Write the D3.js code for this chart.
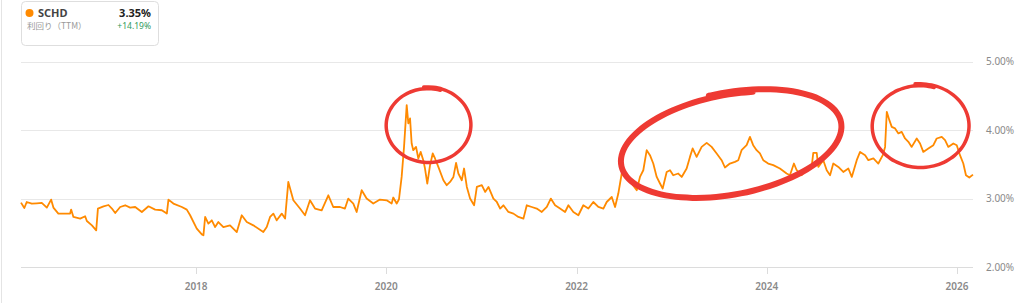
<!DOCTYPE html>
<html>
<head>
<meta charset="utf-8">
<script src="https://cdn.jsdelivr.net/npm/d3@7"></script>
<style>
    body { margin: 0; background: #fff; font-family: "Noto Sans", "Noto Sans CJK JP", sans-serif; }
    svg { display: block; }
</style>
</head>
<body>
<script>
//yield chart data (decimal year, TTM yield %)
var years = [
    2016.160, 2016.195, 2016.220, 2016.273, 2016.325, 2016.378, 2016.431, 2016.476, 2016.500, 2016.552,
    2016.623, 2016.675, 2016.686, 2016.710, 2016.781, 2016.833, 2016.851, 2016.904, 2016.949, 2016.967,
    2017.026, 2017.078, 2017.114, 2017.149, 2017.201, 2017.254, 2017.306, 2017.359, 2017.429, 2017.499,
    2017.569, 2017.639, 2017.692, 2017.709, 2017.761, 2017.850, 2017.902, 2017.937, 2018.007, 2018.060,
    2018.077, 2018.095, 2018.129, 2018.165, 2018.200, 2018.234, 2018.287, 2018.357, 2018.428, 2018.480,
    2018.533, 2018.602, 2018.707, 2018.743, 2018.778, 2018.813, 2018.848, 2018.901, 2018.936, 2018.970,
    2019.023, 2019.093, 2019.146, 2019.198, 2019.251, 2019.321, 2019.391, 2019.443, 2019.514, 2019.566,
    2019.601, 2019.654, 2019.689, 2019.742, 2019.794, 2019.864, 2019.934, 2020.005, 2020.057, 2020.074,
    2020.110, 2020.134, 2020.162, 2020.187, 2020.215, 2020.232, 2020.250, 2020.267, 2020.284, 2020.313,
    2020.337, 2020.362, 2020.389, 2020.407, 2020.431, 2020.460, 2020.488, 2020.512, 2020.547, 2020.600,
    2020.635, 2020.670, 2020.705, 2020.733, 2020.757, 2020.793, 2020.817, 2020.846, 2020.880, 2020.922,
    2020.951, 2021.003, 2021.038, 2021.073, 2021.125, 2021.161, 2021.196, 2021.230, 2021.283, 2021.336,
    2021.388, 2021.441, 2021.476, 2021.529, 2021.581, 2021.634, 2021.687, 2021.729, 2021.774, 2021.826,
    2021.879, 2021.914, 2021.966, 2022.019, 2022.071, 2022.124, 2022.176, 2022.229, 2022.282, 2022.317,
    2022.370, 2022.405, 2022.439, 2022.475, 2022.528, 2022.580, 2022.633, 2022.667, 2022.702, 2022.738,
    2022.772, 2022.807, 2022.843, 2022.878, 2022.906, 2022.948, 2022.983, 2023.017, 2023.070, 2023.106,
    2023.158, 2023.193, 2023.221, 2023.263, 2023.316, 2023.369, 2023.421, 2023.474, 2023.526, 2023.561,
    2023.613, 2023.666, 2023.701, 2023.736, 2023.789, 2023.824, 2023.858, 2023.894, 2023.929, 2023.964,
    2024.016, 2024.069, 2024.139, 2024.209, 2024.244, 2024.286, 2024.315, 2024.367, 2024.420, 2024.472,
    2024.489, 2024.525, 2024.542, 2024.594, 2024.630, 2024.665, 2024.699, 2024.752, 2024.804, 2024.857,
    2024.893, 2024.945, 2024.980, 2025.033, 2025.067, 2025.120, 2025.172, 2025.219, 2025.243, 2025.261,
    2025.288, 2025.313, 2025.348, 2025.383, 2025.418, 2025.453, 2025.488, 2025.523, 2025.576, 2025.611,
    2025.645, 2025.698, 2025.751, 2025.786, 2025.839, 2025.874, 2025.908, 2025.961, 2025.997, 2026.031,
    2026.066, 2026.094, 2026.129, 2026.168
];
var yields = [
    2.941, 2.862, 2.950, 2.927, 2.931, 2.936, 2.868, 2.985, 2.868, 2.780,
    2.780, 2.780, 2.839, 2.731, 2.707, 2.741, 2.672, 2.609, 2.536, 2.854,
    2.887, 2.906, 2.854, 2.789, 2.877, 2.902, 2.868, 2.877, 2.804, 2.887,
    2.839, 2.829, 2.780, 2.985, 2.927, 2.877, 2.839, 2.756, 2.561, 2.477,
    2.463, 2.731, 2.634, 2.682, 2.584, 2.657, 2.584, 2.609, 2.511, 2.756,
    2.657, 2.609, 2.511, 2.584, 2.731, 2.780, 2.682, 2.780, 2.707, 3.243,
    2.975, 2.854, 2.756, 2.975, 2.854, 2.829, 3.048, 2.877, 2.877, 2.854,
    3.000, 2.927, 2.804, 3.122, 3.000, 2.927, 2.985, 2.975, 2.927, 3.015,
    2.927, 2.990, 3.316, 3.755, 4.366, 4.098, 4.171, 3.805, 3.707, 3.755,
    3.586, 3.682, 3.561, 3.439, 3.220, 3.488, 3.659, 3.586, 3.463, 3.268,
    3.195, 3.243, 3.316, 3.521, 3.366, 3.268, 3.439, 3.170, 3.000, 2.902,
    3.170, 3.195, 3.097, 3.170, 3.000, 2.950, 2.854, 2.902, 2.804, 2.780,
    2.731, 2.707, 2.902, 2.877, 2.854, 2.804, 2.877, 3.000, 2.902, 2.854,
    2.804, 2.902, 2.804, 2.756, 2.902, 2.854, 2.950, 2.877, 2.854, 2.950,
    3.023, 2.877, 3.073, 3.366, 3.366, 3.220, 3.122, 3.316, 3.414, 3.707,
    3.634, 3.512, 3.316, 3.220, 3.146, 3.389, 3.414, 3.341, 3.366, 3.316,
    3.439, 3.609, 3.732, 3.609, 3.755, 3.814, 3.755, 3.659, 3.561, 3.454,
    3.512, 3.536, 3.561, 3.707, 3.780, 3.902, 3.780, 3.707, 3.659, 3.561,
    3.512, 3.488, 3.439, 3.366, 3.341, 3.512, 3.414, 3.341, 3.439, 3.463,
    3.668, 3.668, 3.463, 3.561, 3.414, 3.341, 3.512, 3.463, 3.389, 3.439,
    3.316, 3.561, 3.682, 3.634, 3.561, 3.586, 3.512, 3.634, 3.755, 4.268,
    4.146, 4.048, 4.025, 3.952, 3.975, 3.878, 3.829, 3.755, 3.878, 3.805,
    3.682, 3.732, 3.780, 3.878, 3.902, 3.854, 3.755, 3.805, 3.780, 3.634,
    3.512, 3.341, 3.307, 3.350
];
var yTicks = [2, 3, 4, 5]; //y axis ticks (%)
var tickYears = [2018, 2020, 2022, 2024, 2026]; //x axis ticks

//header card
var ticker = "SCHD";
var metricLabel = "利回り（TTM）";
var lastValue = "3.35%";
var changeValue = "+14.19%";

//hand-drawn red circles: center (decimal year, yield)
var marks = [
    {year: 2020.439, value: 4.073, rx: 42, ry: 37, tilt: 0, width: 3.5},
    {year: 2023.613, value: 3.795, rx: 111, ry: 50, tilt: -11, width: 6},
    {year: 2025.611, value: 4.059, rx: 48, ry: 41, tilt: 0, width: 3.5}
];

(function(){

    var width = 1024,
        height = 303;

    window.onload = setChart();

    //decimal year to Date
    function toDate(y){
        var yr = Math.floor(y),
            a = Date.UTC(yr, 0, 1),
            b = Date.UTC(yr + 1, 0, 1);
        return new Date(a + (y - yr) * (b - a));
    };

    function setChart(){
        var svg = d3.select("body")
            .append("svg")
            .attr("width", width)
            .attr("height", height);

        var data = years.map(function(d, i){
            return {date: toDate(d), value: yields[i]};
        });

        var x = d3.scaleUtc()
            .domain([toDate(years[0]), toDate(years[years.length - 1])])
            .range([21, 973]);

        var y = d3.scaleLinear()
            .domain([2, 5])
            .range([267, 61.7]);

        //left frame line
        svg.append("line")
            .attr("x1", 1.5).attr("x2", 1.5)
            .attr("y1", 0).attr("y2", height)
            .attr("stroke", "#e4e4e4");

        //gridlines + right labels
        var grid = svg.append("g").attr("class", "grid");
        grid.selectAll("line")
            .data(yTicks)
            .enter()
            .append("line")
            .attr("x1", 21)
            .attr("x2", 973)
            .attr("y1", function(d){ return Math.round(y(d)) + 0.5; })
            .attr("y2", function(d){ return Math.round(y(d)) + 0.5; })
            .attr("stroke", function(d){ return d == 2 ? "#dcdcdc" : "#e8e8e8"; })
            .attr("stroke-width", 1.2);

        grid.selectAll("text")
            .data(yTicks)
            .enter()
            .append("text")
            .attr("x", 986)
            .attr("y", function(d){ return y(d); })
            .attr("dy", "0.35em")
            .attr("font-size", 10)
            .attr("fill", "#8a8a8a")
            .text(function(d){ return d3.format(".2f")(d) + "%"; });

        //x axis ticks
        var xAxis = svg.append("g").attr("class", "xaxis");
        var tickDates = tickYears.map(function(d){ return new Date(Date.UTC(d, 0, 1)); });
        xAxis.selectAll("line")
            .data(tickDates)
            .enter()
            .append("line")
            .attr("x1", function(d){ return Math.round(x(d)) + 0.5; })
            .attr("x2", function(d){ return Math.round(x(d)) + 0.5; })
            .attr("y1", Math.round(y(2)))
            .attr("y2", Math.round(y(2)) + 7)
            .attr("stroke", "#dcdcdc");

        xAxis.selectAll("text")
            .data(tickDates)
            .enter()
            .append("text")
            .attr("x", function(d){ return x(d); })
            .attr("y", 289.5)
            .attr("text-anchor", "middle")
            .attr("font-size", 10)
            .attr("font-weight", 600)
            .attr("fill", "#8a8a8a")
            .text(d3.utcFormat("%Y"));

        //yield line
        var line = d3.line()
            .x(function(d){ return x(d.date); })
            .y(function(d){ return y(d.value); });

        svg.append("path")
            .datum(data)
            .attr("fill", "none")
            .attr("stroke", "#ff8a00")
            .attr("stroke-width", 1.8)
            .attr("stroke-linejoin", "round")
            .attr("d", line);

        setMarks(svg, x, y);
        setHeader(svg);
    };

    //red hand-drawn ellipses
    function setMarks(svg, x, y){
        var pen = d3.line().curve(d3.curveBasis);
        marks.forEach(function(m){
            var cx = x(toDate(m.year)),
                cy = y(m.value),
                pts = [],
                t0 = -Math.PI / 2 - 0.1,
                t1 = -Math.PI / 2 + 2 * Math.PI + 0.3,
                n = 60;
            for (var i=0; i<=n; i++){
                var t = t0 + (t1 - t0) * i / n,
                    f = 1.035 - 0.05 * i / n; //slight spiral so the ends overlap
                pts.push([m.rx * f * Math.cos(t), m.ry * f * Math.sin(t)]);
            };
            svg.append("path")
                .attr("d", pen(pts))
                .attr("transform", "translate(" + cx + "," + cy + ") rotate(" + m.tilt + ")")
                .attr("fill", "none")
                .attr("stroke", "#ee3a33")
                .attr("stroke-width", m.width)
                .attr("stroke-linecap", "round");
        });
    };

    //legend card top-left
    function setHeader(svg){
        var g = svg.append("g");
        g.append("rect")
            .attr("x", 21.5).attr("y", 1.5)
            .attr("width", 137).attr("height", 44)
            .attr("rx", 4)
            .attr("fill", "#fff")
            .attr("stroke", "#dedede");
        g.append("circle")
            .attr("cx", 29.5).attr("cy", 13)
            .attr("r", 4)
            .attr("fill", "#ff8a00");
        g.append("text")
            .attr("x", 38).attr("y", 17)
            .attr("font-size", 11).attr("font-weight", 700)
            .attr("fill", "#444")
            .text(ticker);
        g.append("text")
            .attr("x", 151).attr("y", 17)
            .attr("text-anchor", "end")
            .attr("font-size", 11).attr("font-weight", 700)
            .attr("fill", "#222")
            .text(lastValue);
        g.append("text")
            .attr("x", 27).attr("y", 29)
            .attr("font-family", "Noto Sans CJK JP")
            .attr("font-size", 8.5)
            .attr("fill", "#999")
            .text(metricLabel);
        g.append("text")
            .attr("x", 151).attr("y", 29)
            .attr("text-anchor", "end")
            .attr("font-size", 8.5)
            .attr("fill", "#2f9b5d")
            .text(changeValue);
    };

})();
</script>
</body>
</html>
